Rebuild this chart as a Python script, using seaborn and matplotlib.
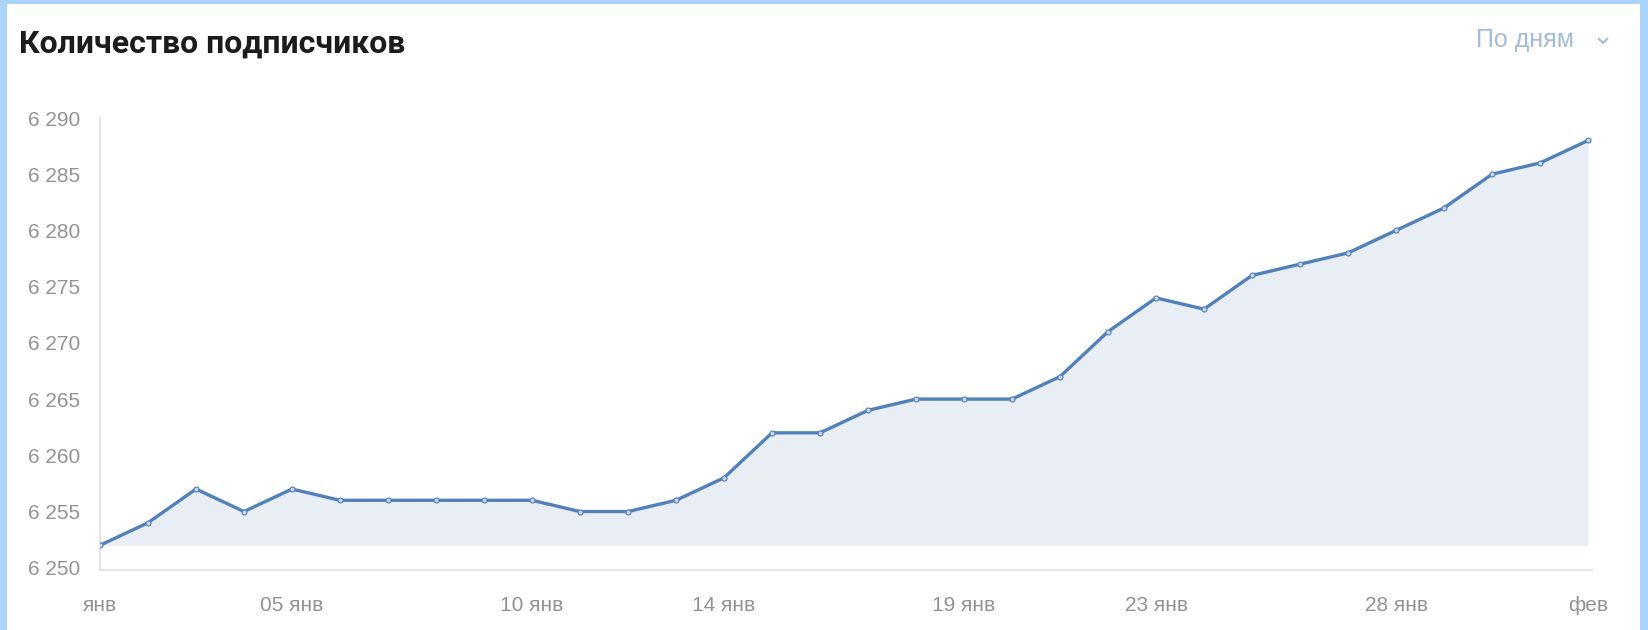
import matplotlib.pyplot as plt
import matplotlib.ticker as mticker
from matplotlib.patches import Rectangle
import pandas as pd
import seaborn as sns

# daily subscriber count, 1 Jan .. 1 Feb
dates = pd.date_range("2021-01-01", "2021-02-01", freq="D")
subscribers = [6252, 6254, 6257, 6255, 6257, 6256, 6256, 6256, 6256, 6256,
               6255, 6255, 6256, 6258, 6262, 6262, 6264, 6265, 6265, 6265,
               6267, 6271, 6274, 6273, 6276, 6277, 6278, 6280, 6282, 6285,
               6286, 6288]

tick_dates = ["2021-01-01", "2021-01-05", "2021-01-10", "2021-01-14",
              "2021-01-19", "2021-01-23", "2021-01-28", "2021-02-01"]
tick_labels = ["янв", "05 янв", "10 янв", "14 янв", "19 янв", "23 янв", "28 янв", "фев"]
y_ticks = [6250, 6255, 6260, 6265, 6270, 6275, 6280, 6285, 6290]

LINE = "#5181b8"
FILL = "#e9eef4"
GREY = "#939393"

sns.set_style("white")
plt.rcParams["font.family"] = ["Liberation Sans", "DejaVu Sans"]

W, H = 1648, 630
fig = plt.figure(figsize=(W / 100, H / 100), dpi=100)
ax = fig.add_axes([100 / W, 1 - 570 / H, 1492 / W, 452 / H])

df = pd.DataFrame({"date": dates, "subs": subscribers})
ax.fill_between(df["date"], df["subs"], min(subscribers), color=FILL, lw=0, zorder=1)
sns.lineplot(data=df, x="date", y="subs", ax=ax, color=LINE, lw=2.4,
             marker="o", markersize=3.6, markerfacecolor="#c9d6e6",
             markeredgecolor=LINE, markeredgewidth=0.8, zorder=3)

ax.set_xlim(dates[0], dates[-1] + pd.Timedelta(hours=2))
ax.set_ylim(6249.8, 6290)
ax.set_yticks(y_ticks)
ax.yaxis.set_major_formatter(mticker.FuncFormatter(lambda v, p: f"{int(v):,}".replace(",", " ")))
ax.set_xticks(pd.to_datetime(tick_dates))
ax.set_xticklabels(tick_labels)
ax.set_xlabel("")
ax.set_ylabel("")

ax.tick_params(axis="y", length=0, pad=14.4, labelsize=15, labelcolor=GREY)
ax.tick_params(axis="x", length=0, pad=19, labelsize=15, labelcolor=GREY)
for side in ["top", "right"]:
    ax.spines[side].set_visible(False)
for side in ["left", "bottom"]:
    ax.spines[side].set_color("#e3e4e8")
    ax.spines[side].set_linewidth(1.5)
ax.grid(False)

fig.text(19 / W, 1 - 44 / H, "Количество подписчиков", ha="left", va="center",
         fontsize=23, fontweight="bold", color="#1c1c1c", family=["Roboto", "DejaVu Sans"])
fig.text(1476 / W, 1 - 40 / H, "По дням", ha="left", va="center",
         fontsize=18, color="#a3bcd7")
fig.text(1603 / W, 1 - 37 / H, "⌄", ha="center", va="center",
         fontsize=19, color="#a3bcd7", family=["DejaVu Sans"])

# light blue frame around the screenshot
BORDER = "#aad4fb"
fig.add_artist(Rectangle((0, 0), 7 / W, 1, transform=fig.transFigure, color=BORDER, lw=0))
fig.add_artist(Rectangle((1640 / W, 0), 8 / W, 1, transform=fig.transFigure, color=BORDER, lw=0))
fig.add_artist(Rectangle((0, 1 - 4 / H), 1, 4 / H, transform=fig.transFigure, color=BORDER, lw=0))

fig.savefig("out.png", dpi=100, facecolor="white")
plt.close(fig)
